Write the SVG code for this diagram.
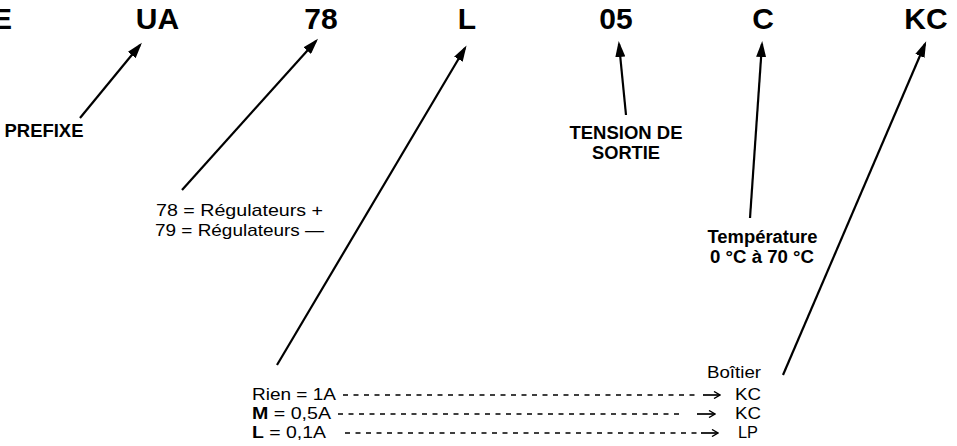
<svg xmlns="http://www.w3.org/2000/svg" width="957" height="446" viewBox="0 0 957 446">
<style>
.code{font-family:"Liberation Sans",Arial,sans-serif;font-weight:bold;font-size:30px;fill:#000;text-anchor:middle}
.lab{font-family:"Liberation Sans",Arial,sans-serif;font-weight:bold;font-size:17.5px;fill:#000;text-anchor:middle}
.txt{font-family:"Liberation Sans",Arial,sans-serif;font-size:17px;fill:#000}
.b{font-weight:bold}
.arr{fill:none;stroke:#000;stroke-width:2.2;marker-end:url(#ah)}
.dash{fill:none;stroke:#000;stroke-width:1.7;stroke-dasharray:5 5.5}
.sarr{fill:none;stroke:#000;stroke-width:1.7;marker-end:url(#sa)}
</style>
<defs>
<marker id="ah" viewBox="0 0 16 10" refX="13" refY="5" markerWidth="16" markerHeight="10" orient="auto" markerUnits="userSpaceOnUse">
<path d="M0,0 L16,5 L0,10 z" fill="#000"/>
</marker>
<marker id="sa" viewBox="0 0 8 8" refX="7" refY="4" markerWidth="8" markerHeight="8" orient="auto" markerUnits="userSpaceOnUse">
<path d="M1,0.5 L7,4 L1,7.5" fill="none" stroke="#000" stroke-width="1.4"/>
</marker>
</defs>
<rect width="957" height="446" fill="#fff"/>
<g id="code">
<text class="code" x="12" y="29" style="text-anchor:end">E</text>
<text class="code" x="157.5" y="29">UA</text>
<text class="code" x="321" y="29">78</text>
<text class="code" x="467" y="29">L</text>
<text class="code" x="616" y="29">05</text>
<text class="code" x="763" y="29">C</text>
<text class="code" x="926" y="29">KC</text>
</g>
<g id="prefixe"><text class="lab" x="44" y="137" textLength="79" lengthAdjust="spacingAndGlyphs">PREFIXE</text></g>
<g id="tension"><text class="lab" x="626" y="139" textLength="113" lengthAdjust="spacingAndGlyphs">TENSION DE</text><text class="lab" x="626" y="159" textLength="68" lengthAdjust="spacingAndGlyphs">SORTIE</text></g>
<g id="temperature"><text class="lab" x="762.5" y="243" textLength="110" lengthAdjust="spacingAndGlyphs">Température</text><text class="lab" x="762" y="263" textLength="104" lengthAdjust="spacingAndGlyphs">0 °C à 70 °C</text></g>
<g id="regulateurs">
<text class="txt" x="156" y="216" textLength="167" lengthAdjust="spacingAndGlyphs">78 = Régulateurs +</text>
<text class="txt" x="155" y="236" textLength="169" lengthAdjust="spacingAndGlyphs">79 = Régulateurs —</text>
</g>
<g id="courant">
<text class="txt" x="707" y="378" textLength="54" lengthAdjust="spacingAndGlyphs">Boîtier</text>
<text class="txt" x="252" y="400" textLength="84" lengthAdjust="spacingAndGlyphs">Rien = 1A</text>
<text class="txt" x="252" y="419" textLength="79" lengthAdjust="spacingAndGlyphs"><tspan class="b">M</tspan> = 0,5A</text>
<text class="txt" x="252" y="438" textLength="74" lengthAdjust="spacingAndGlyphs"><tspan class="b">L</tspan> = 0,1A</text>
<text class="txt" x="735" y="400" textLength="26" lengthAdjust="spacingAndGlyphs">KC</text>
<text class="txt" x="735" y="419" textLength="26" lengthAdjust="spacingAndGlyphs">KC</text>
<text class="txt" x="738" y="438" textLength="20" lengthAdjust="spacingAndGlyphs">LP</text>
</g>
<g id="connectors">
<path class="arr" d="M80,118 L140,45"/>
<path class="arr" d="M182,190 L316,41"/>
<path class="arr" d="M277,365 L465,48"/>
<path class="arr" d="M626,115 L619,44"/>
<path class="arr" d="M750,218 L762,44"/>
<path class="arr" d="M783,375 L925,44"/>
<path class="dash" d="M343,395 H697"/>
<path class="dash" d="M338,414 H682"/>
<path class="dash" d="M345,433 H700"/>
<path class="sarr" d="M703,395 H720"/>
<path class="sarr" d="M697,414 H715"/>
<path class="sarr" d="M701,433 H718"/>
</g>
</svg>
